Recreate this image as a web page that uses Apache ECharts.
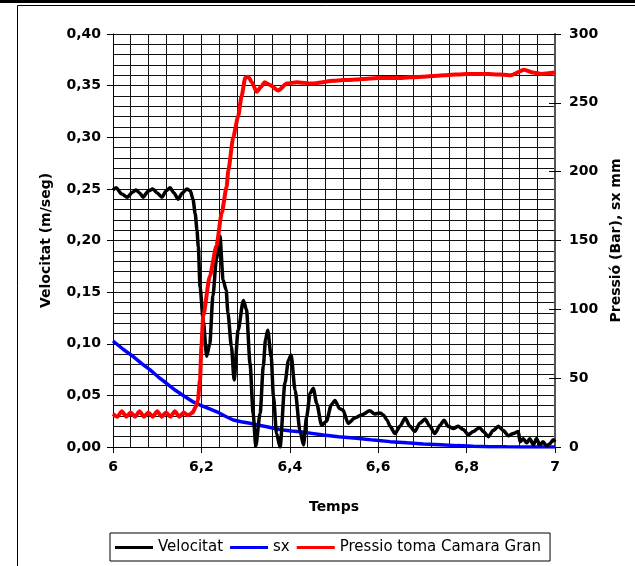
<!DOCTYPE html>
<html><head><meta charset="utf-8">
<script src="https://cdn.jsdelivr.net/npm/echarts@6/dist/echarts.min.js"></script>
<style>html,body{margin:0;padding:0;background:#fff}#c{width:635px;height:566px}</style>
</head><body><div id="c"></div>
<script>
// Velocitat (m/seg) vs Temps
const velT = [6.000,6.007,6.020,6.032,6.045,6.052,6.060,6.068,6.080,6.090,6.100,6.111,6.120,6.129,6.138,6.147,6.157,6.167,6.175,6.181,6.186,6.190,6.193,6.197,6.204,6.212,6.219,6.226,6.234,6.242,6.249,6.256,6.260,6.268,6.274,6.283,6.295,6.302,6.310,6.317,6.323,6.333,6.340,6.345,6.350,6.358,6.363,6.370,6.378,6.389,6.397,6.403,6.412,6.423,6.431,6.438,6.446,6.453,6.461,6.472,6.483,6.494,6.502,6.513,6.520,6.532,6.547,6.562,6.581,6.592,6.604,6.612,6.620,6.627,6.638,6.649,6.661,6.672,6.683,6.694,6.706,6.717,6.728,6.740,6.749,6.758,6.770,6.781,6.792,6.804,6.815,6.829,6.838,6.849,6.860,6.872,6.883,6.894,6.906,6.917,6.921,6.928,6.936,6.943,6.951,6.958,6.966,6.973,6.981,6.988,6.996,7.000];
const velV = [0.249,0.251,0.245,0.242,0.247,0.249,0.246,0.242,0.248,0.250,0.246,0.242,0.248,0.251,0.246,0.240,0.246,0.250,0.248,0.240,0.226,0.210,0.194,0.155,0.123,0.088,0.100,0.146,0.182,0.204,0.162,0.152,0.130,0.097,0.065,0.113,0.142,0.133,0.081,0.033,0.001,0.033,0.078,0.104,0.113,0.087,0.049,0.013,0.000,0.062,0.084,0.089,0.055,0.016,0.002,0.029,0.052,0.057,0.042,0.021,0.025,0.041,0.045,0.037,0.036,0.023,0.028,0.031,0.035,0.032,0.033,0.031,0.026,0.020,0.013,0.020,0.028,0.020,0.015,0.023,0.027,0.020,0.013,0.021,0.026,0.020,0.018,0.020,0.017,0.012,0.015,0.019,0.015,0.010,0.016,0.020,0.016,0.011,0.013,0.015,0.005,0.008,0.004,0.008,0.002,0.008,0.002,0.005,0.001,0.003,0.007,0.005];

// sx (mm)
const sxT = [6.000,6.023,6.046,6.065,6.084,6.102,6.121,6.142,6.163,6.180,6.197,6.216,6.235,6.253,6.272,6.290,6.310,6.330,6.348,6.366,6.385,6.404,6.423,6.450,6.476,6.510,6.551,6.590,6.627,6.665,6.702,6.740,6.778,6.815,6.853,6.890,6.928,7.000];
const sxV = [77,71,65.6,60.5,56,51,46.3,41,36.5,33,30.5,28,25.6,22.5,19.6,18.3,17.2,15.8,14.7,13.4,12.3,11.6,11.1,9.9,8.7,7.5,6.3,5.0,3.9,3.0,2.2,1.6,1.0,0.5,0.2,0.1,0,0];

// Pressio toma Camara Gran (Bar)
const presT = [6.000,6.010,6.020,6.030,6.040,6.050,6.060,6.070,6.080,6.090,6.100,6.110,6.120,6.130,6.140,6.150,6.160,6.170,6.180,6.187,6.192,6.197,6.200,6.204,6.219,6.234,6.246,6.257,6.261,6.272,6.283,6.291,6.299,6.306,6.314,6.325,6.336,6.343,6.355,6.374,6.393,6.416,6.450,6.500,6.550,6.600,6.650,6.700,6.750,6.800,6.850,6.900,6.930,6.950,6.970,7.000];
const presV = [24,22,26,22,25,22,26,22,25,22,26,22,25,22,26,22,25,23,25,29,34,49,73,95,124,146,170,189,201,225,240,255,268,269,265,258,262,265,263,259,264,265,264,266,267,268,268,269,270,271,271,270,274,272,271,272];

const xTicks = ['6','6,2','6,4','6,6','6,8','7'];

const pair = (t, v) => t.map((x, i) => [x, v[i]]);
const FONT = 'DejaVu Sans';

const chart = echarts.init(document.getElementById('c'), null, {renderer: 'canvas'});
chart.setOption({
  animation: false,
  backgroundColor: '#fff',
  grid: {left: 113, right: 80, top: 34, bottom: 119, containLabel: false},
  graphic: [
    {type: 'rect', shape: {x: 0, y: 0, width: 635, height: 3}, style: {fill: '#000'}},
    {type: 'polyline', shape: {points: [[17.5, 566], [17.5, 5.5], [635, 5.5]]}, style: {stroke: '#000', lineWidth: 1, fill: null}}
  ],
  legend: {
    left: 110, top: 533,
    padding: [7, 9, 6, 5],
    borderColor: '#000', borderWidth: 1,
    itemWidth: 38, itemHeight: 3, itemGap: 7,
    icon: 'rect',
    textStyle: {fontFamily: FONT, fontSize: 15, color: '#000'},
    data: ['Velocitat', 'sx', 'Pressio toma Camara Gran']
  },
  xAxis: {
    type: 'value', min: 6, max: 7, interval: 0.2,
    name: 'Temps', nameLocation: 'middle', nameGap: 53,
    nameTextStyle: {fontFamily: FONT, fontSize: 14, fontWeight: 'bold', color: '#000'},
    axisLine: {show: true, lineStyle: {color: '#000', width: 1}},
    axisTick: {show: true, length: 6, lineStyle: {color: '#000'}},
    axisLabel: {margin: 13, fontFamily: FONT, fontSize: 14, fontWeight: 'bold', color: '#000',
      formatter: v => xTicks[Math.round((v - 6) / 0.2)]},
    splitLine: {show: true, lineStyle: {color: '#111', width: 1}},
    minorTick: {show: false, splitNumber: 5},
    minorSplitLine: {show: true, lineStyle: {color: '#111', width: 1}}
  },
  yAxis: [
    {
      type: 'value', min: 0, max: 0.4, interval: 0.05, position: 'left',
      name: 'Velocitat (m/seg)', nameLocation: 'middle', nameGap: 60, nameRotate: 90,
      nameTextStyle: {fontFamily: FONT, fontSize: 14, fontWeight: 'bold', color: '#000'},
      axisLine: {show: true, lineStyle: {color: '#000', width: 1}},
      axisTick: {show: true, length: 6, lineStyle: {color: '#000'}},
      axisLabel: {margin: 12, fontFamily: FONT, fontSize: 14, fontWeight: 'bold', color: '#000',
        formatter: v => v.toFixed(2).replace('.', ',')},
      splitLine: {show: true, lineStyle: {color: '#111', width: 1}},
      minorTick: {show: false, splitNumber: 5},
      minorSplitLine: {show: true, lineStyle: {color: '#111', width: 1}}
    },
    {
      type: 'value', min: 0, max: 300, interval: 50, position: 'right',
      name: 'Pressió (Bar), sx mm', nameLocation: 'middle', nameGap: 52, nameRotate: 90,
      nameTextStyle: {fontFamily: FONT, fontSize: 14, fontWeight: 'bold', color: '#000'},
      axisLine: {show: true, lineStyle: {color: '#555', width: 2}},
      axisTick: {show: true, length: 6, lineStyle: {color: '#000'}},
      axisLabel: {margin: 14, fontFamily: FONT, fontSize: 14, fontWeight: 'bold', color: '#000'},
      splitLine: {show: false}
    },
    {
      type: 'value', min: 0, max: 300, interval: 50, position: 'right',
      axisLine: {show: false},
      axisTick: {show: true, inside: true, length: 6, lineStyle: {color: '#000'}},
      axisLabel: {show: false},
      splitLine: {show: false}
    }
  ],
  series: [
    {name: 'sx', type: 'line', yAxisIndex: 1, data: pair(sxT, sxV), showSymbol: false,
      color: '#0000ff', lineStyle: {width: 3.5, color: '#0000ff'}, z: 2},
    {name: 'Velocitat', type: 'line', yAxisIndex: 0, data: pair(velT, velV), showSymbol: false,
      smooth: 0.25, smoothMonotone: 'x',
      color: '#000', lineStyle: {width: 3.5, color: '#000'}, z: 3},
    {name: 'Pressio toma Camara Gran', type: 'line', yAxisIndex: 1, data: pair(presT, presV), showSymbol: false,
      smooth: 0.2, smoothMonotone: 'x',
      color: '#ff0000', lineStyle: {width: 4, color: '#ff0000'}, z: 4}
  ]
});
</script></body></html>
